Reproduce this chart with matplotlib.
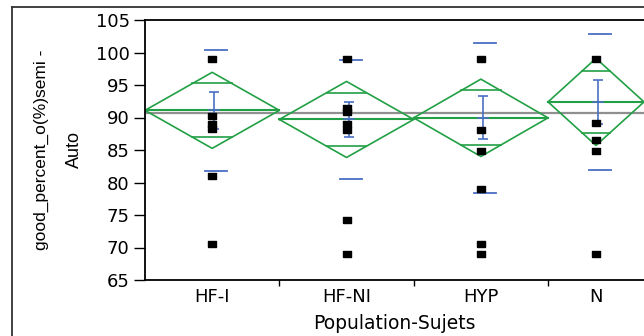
import numpy as np
import matplotlib
matplotlib.use('Agg')
import matplotlib.pyplot as plt
from matplotlib.lines import Line2D

# groups on the x axis, widths proportional to the number of observations
groups = ['HF-I', 'HF-NI', 'HYP', 'N']
n_obs = [7, 7, 7, 5]

# individual observations per group
pts_hfi = [99.0, 90.2, 89.0, 88.2, 81.0, 70.5]
pts_hfni = [99.0, 91.4, 90.9, 89.0, 88.1, 74.2, 69.0]
pts_hyp = [99.0, 88.1, 84.9, 79.0, 70.6, 69.0]
pts_n = [99.0, 89.1, 86.5, 84.9, 69.0]

# summary stats
means = [91.1, 89.7, 89.95, 92.4]
ci_half = [5.85, 5.85, 5.95, 6.7]
std_dev = [9.35, 9.2, 11.55, 10.5]
std_err = [2.85, 2.7, 3.3, 3.4]
grand_mean = 90.65

green = '#22a045'
blue = '#4a6fc4'

plt.rcParams['font.family'] = ['DejaVu Sans']

fig = plt.figure(figsize=(6.44, 3.36), dpi=100)
ax = fig.add_axes([145/644, 56/336, 499/644, 260/336])

edges = np.concatenate([[0], np.cumsum(n_obs)])
centres = (edges[:-1] + edges[1:]) / 2
upp = sum(n_obs) / 499.0  # data units per pixel

ax.axhline(grand_mean, color='#909090', lw=1.6, zorder=1)

# slightly wide square marker, like the original
sq = [(-1.25, -1), (1.25, -1), (1.25, 1), (-1.25, 1), (-1.25, -1)]

all_pts = [pts_hfi, pts_hfni, pts_hyp, pts_n]
for i in range(len(groups)):
    a, b, c = edges[i], edges[i+1], centres[i]
    m, h = means[i], ci_half[i]
    # means diamond
    ax.plot([a, c, b, c, a], [m, m+h, m, m-h, m], color=green, lw=1.2, zorder=2)
    ax.plot([a, b], [m, m], color=green, lw=1.5, zorder=2)
    k = h / np.sqrt(2)
    w = (b - a) / 2 * (1 - 1/np.sqrt(2))
    for s in (1, -1):
        ax.plot([c-w, c+w], [m+s*k]*2, color=green, lw=1.2, zorder=2)
    # std dev lines
    for s in (1, -1):
        ax.plot([c - 7*upp, c + 15*upp], [m + s*std_dev[i]]*2, color=blue, lw=1.3, zorder=3)
    # std error bar
    xe = c + 2*upp
    ax.errorbar(xe, m, yerr=std_err[i], color=blue, capsize=3.8, capthick=1.2, lw=1.2, zorder=3)
    ax.plot([xe - 5*upp, xe + 5*upp], [m, m], color=blue, lw=1.2, zorder=3)
    # observations
    ax.plot([c]*len(all_pts[i]), all_pts[i], marker=sq, ls='none', color='black', ms=6.2, zorder=5)

ax.set_xlim(0, sum(n_obs))
ax.set_ylim(65, 105)
ax.set_yticks(range(65, 106, 5))
ax.tick_params(axis='y', length=8, width=1, pad=3, labelsize=13)
ax.set_xticks(centres, groups)
ax.tick_params(axis='x', length=0, pad=6, labelsize=13)
ax.set_xticks(edges[1:-1], minor=True)
ax.tick_params(axis='x', which='minor', length=4, width=1)
ax.spines['right'].set_visible(False)
for sp in ['left', 'bottom', 'top']:
    ax.spines[sp].set_linewidth(1.3)

# axis titles
fig.text(394.5/644, 1 - 329/336, 'Population-Sujets', ha='center', va='baseline', fontsize=13.5)
fig.text(46/644, 1 - 150/336, 'good_percent_o(%)semi -', rotation=90, rotation_mode='anchor',
         ha='center', va='baseline', fontsize=12.5, family='Liberation Sans')
fig.text(79/644, 1 - 150/336, 'Auto', rotation=90, rotation_mode='anchor',
         ha='center', va='baseline', fontsize=13, family='Liberation Sans')

# outer frame
fig.add_artist(Line2D([12/644, 12/644], [0, 1 - 7/336], transform=fig.transFigure, color='#333333', lw=1.3))
fig.add_artist(Line2D([12/644, 1], [1 - 7/336]*2, transform=fig.transFigure, color='#333333', lw=1.3))

fig.savefig('out.png', dpi=100)
